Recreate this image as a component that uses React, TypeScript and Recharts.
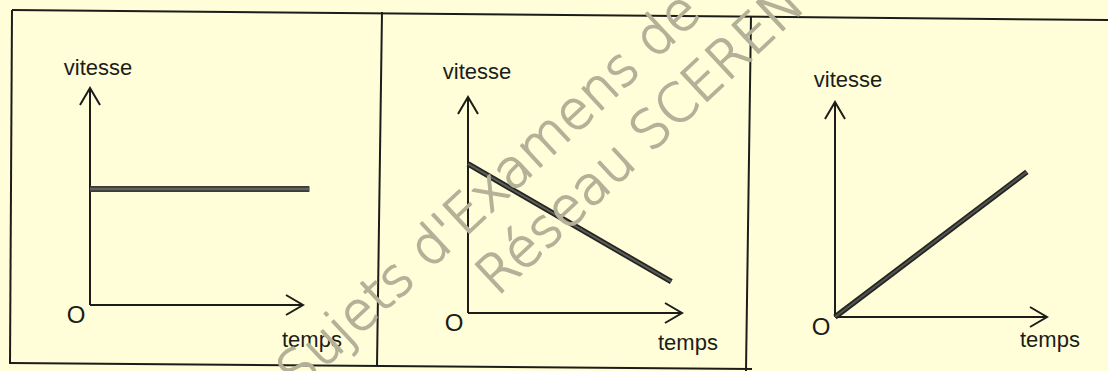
import React from 'react';
import { LineChart, Line, XAxis, YAxis, ReferenceLine, ReferenceDot } from 'recharts';

// valeurs (axes gradués de 0 à 10, unités arbitraires)
const tempsConstante = [0, 10.3];
const vitesseConstante = [5.35, 5.35];
const tempsDecroissante = [0, 9.5];
const vitesseDecroissante = [6.9, 1.45];
const tempsCroissante = [0, 9.05];
const vitesseCroissante = [0, 6.75];

const AXIS_END = 10;
const DOMAIN_MAX = 11;
const xLabel = 'temps';
const yLabel = 'vitesse';
const originLabel = 'O';
const watermarkLines = ["Sujets d'Examens de", 'Réseau SCEREN'];

const W = 1108;
const H = 371;
const BG = '#fffed8';
const INK = '#1c1c1a';
const MARK = '#b3b299';
const FONT = '"Liberation Sans", Arial, sans-serif';

const toRows = (t: number[], v: number[]) => t.map((x, i) => ({ t: x, v: v[i] }));

// position de chaque repère dans l'image (origine, bouts des flèches, décalage des légendes)
const panels = [
  {
    rows: toRows(tempsConstante, vitesseConstante),
    ox: 90, oy: 305, xTip: 303, yTip: 88,
    xLab: [-21, 42], yLab: [8, -13],
    edge: '#3a3a36', core: '#62625c', width: 6,
  },
  {
    rows: toRows(tempsDecroissante, vitesseDecroissante),
    ox: 468, oy: 313, xTip: 682, yTip: 97,
    xLab: [-24, 37], yLab: [9, -18],
    edge: '#242422', core: '#5e5e58', width: 5.5,
  },
  {
    rows: toRows(tempsCroissante, vitesseCroissante),
    ox: 835, oy: 317, xTip: 1047, yTip: 102,
    xLab: [-27, 30], yLab: [13, -15],
    edge: '#242422', core: '#55554f', width: 5.5,
  },
];

function Panel({ p }: { p: (typeof panels)[number] }) {
  const right = W - (p.ox + ((p.xTip - p.ox) * DOMAIN_MAX) / AXIS_END);
  const top = p.oy - ((p.oy - p.yTip) * DOMAIN_MAX) / AXIS_END;

  const arrowX = ({ cx, cy }: any) => (
    <g>
      <path d={`M${cx - 17},${cy - 10} L${cx},${cy} L${cx - 17},${cy + 10}`} fill="none" stroke={INK} strokeWidth={2} />
      <text x={cx + p.xLab[0]} y={cy + p.xLab[1]} fontFamily={FONT} fontSize={22} fill={INK}>
        {xLabel}
      </text>
    </g>
  );
  const arrowY = ({ cx, cy }: any) => (
    <g>
      <path d={`M${cx - 10},${cy + 17} L${cx},${cy} L${cx + 10},${cy + 17}`} fill="none" stroke={INK} strokeWidth={2} />
      <text x={cx + p.yLab[0]} y={cy + p.yLab[1]} textAnchor="middle" fontFamily={FONT} fontSize={22} fill={INK}>
        {yLabel}
      </text>
    </g>
  );
  const origin = ({ cx, cy }: any) => (
    <text x={cx - 14} y={cy + 18} textAnchor="middle" fontFamily={FONT} fontSize={24} fill={INK}>
      {originLabel}
    </text>
  );

  return (
    <div style={{ position: 'absolute', left: 0, top: 0 }}>
      <LineChart width={W} height={H} data={p.rows} margin={{ left: p.ox, right, top, bottom: H - p.oy }}>
        <XAxis type="number" dataKey="t" domain={[0, DOMAIN_MAX]} hide />
        <YAxis type="number" domain={[0, DOMAIN_MAX]} hide />
        <ReferenceLine segment={[{ x: 0, y: 0 }, { x: AXIS_END, y: 0 }]} stroke={INK} strokeWidth={2} ifOverflow="visible" />
        <ReferenceLine segment={[{ x: 0, y: 0 }, { x: 0, y: AXIS_END }]} stroke={INK} strokeWidth={2} ifOverflow="visible" />
        <ReferenceDot x={AXIS_END} y={0} r={0} shape={arrowX} ifOverflow="visible" />
        <ReferenceDot x={0} y={AXIS_END} r={0} shape={arrowY} ifOverflow="visible" />
        <ReferenceDot x={0} y={0} r={0} shape={origin} ifOverflow="visible" />
        <Line type="linear" dataKey="v" stroke={p.edge} strokeWidth={p.width} dot={false} activeDot={false} isAnimationActive={false} />
        <Line type="linear" dataKey="v" stroke={p.core} strokeWidth={p.width - 3.5} dot={false} activeDot={false} isAnimationActive={false} />
      </LineChart>
    </div>
  );
}

export default function App() {
  return (
    <div style={{ position: 'absolute', left: 0, top: 0, width: W, height: H, background: BG, overflow: 'hidden' }}>
      <svg width={W} height={H} style={{ position: 'absolute', left: 0, top: 0 }}>
        <g stroke={INK} strokeWidth={2} fill="none">
          <line x1={12} y1={10} x2={1108} y2={20} />
          <line x1={12} y1={10} x2={10} y2={364} />
          <line x1={10} y1={363} x2={752} y2={369} />
          <line x1={382} y1={12} x2={377} y2={366} />
          <line x1={751} y1={16} x2={746} y2={371} />
        </g>
      </svg>
      {panels.map((p, i) => (
        <Panel key={i} p={p} />
      ))}
      <svg width={W} height={H} style={{ position: 'absolute', left: 0, top: 0, pointerEvents: 'none' }}>
        <g
          fill={MARK}
          stroke={MARK}
          strokeWidth={1.6}
          strokeLinejoin="round"
          fontFamily='"DejaVu Sans", sans-serif'
          fontWeight={200}
          fontSize={53}
        >
          <text x={298} y={393} transform="rotate(-43 298 393)">
            {watermarkLines[0]}
          </text>
          <text x={497} y={297} transform="rotate(-43 497 297)">
            {watermarkLines[1]}
          </text>
        </g>
      </svg>
    </div>
  );
}
